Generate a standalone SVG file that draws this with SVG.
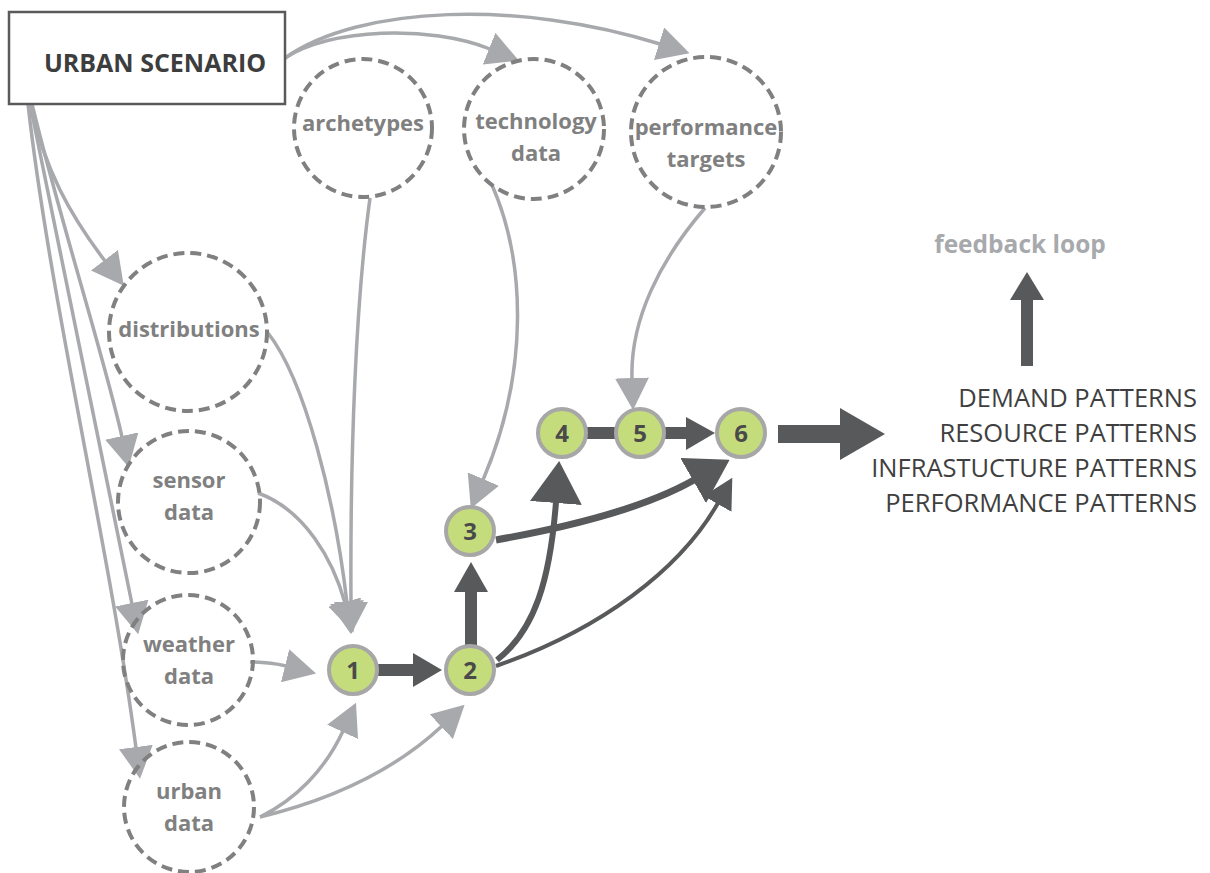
<svg xmlns="http://www.w3.org/2000/svg" width="1210" height="873" viewBox="0 0 1210 873">
  <style>
    .src { fill: #ffffff; stroke: #5a5a5a; stroke-width: 2.5; }
    .src-t { font-family: "Open Sans", "Liberation Sans", sans-serif; font-weight: 700; font-size: 25px; fill: #3d3d3d; text-anchor: middle; }
    .inp { fill: none; stroke: #808080; stroke-width: 4; stroke-dasharray: 11 6; }
    .inp-t { font-family: "Open Sans", "Liberation Sans", sans-serif; font-weight: 700; font-size: 22px; fill: #808080; text-anchor: middle; }
    .step { fill: #c5dc7d; stroke: #a7a7a7; stroke-width: 4; }
    .step-t { font-family: "Open Sans", "Liberation Sans", sans-serif; font-weight: 700; font-size: 24px; fill: #4a4a4a; text-anchor: middle; }
    .lt { fill: none; stroke: #a7a9ac; stroke-width: 3.5; marker-end: url(#hl); }
    .dk { fill: none; stroke: #58595b; }
    .dkf { fill: #58595b; }
    .out-t { font-family: "Open Sans", "Liberation Sans", sans-serif; font-weight: 400; font-size: 25.5px; fill: #3f3f3f; text-anchor: end; }
    .fb-t { font-family: "Open Sans", "Liberation Sans", sans-serif; font-weight: 700; font-size: 24.5px; fill: #a7a9ac; text-anchor: middle; }
  </style>
  <defs>
    <marker id="hl" viewBox="0 0 32 34" markerWidth="32" markerHeight="34" refX="1" refY="17" orient="auto" markerUnits="userSpaceOnUse">
      <path d="M0,0 L32,17 L0,34 z" fill="#a7a9ac"/>
    </marker>
    <marker id="hdL" viewBox="0 0 42 52" markerWidth="42" markerHeight="52" refX="1" refY="26" orient="auto" markerUnits="userSpaceOnUse">
      <path d="M0,0 L42,26 L0,52 z" fill="#58595b"/>
    </marker>
    <marker id="hdS" viewBox="0 0 30 32" markerWidth="30" markerHeight="32" refX="1" refY="16" orient="auto" markerUnits="userSpaceOnUse">
      <path d="M0,0 L30,16 L0,32 z" fill="#58595b"/>
    </marker>
  </defs>

  <g id="connectors">
    <!-- scenario fan-out -->
    <path class="lt" d="M 285 58 C 330 28, 430 25, 490 49"/>
    <path class="lt" d="M 285 58 C 360 5, 520 0, 660 44"/>
    <path class="lt" d="M 30 104 C 45 170, 70 215, 105 261"/>
    <path class="lt" d="M 32 104 C 60 220, 105 360, 122 437"/>
    <path class="lt" d="M 30 104 L 132 604"/>
    <path class="lt" d="M 28 104 C 50 300, 110 550, 136 748"/>
    <!-- inputs into step 1 -->
    <path class="lt" d="M 370 198 C 356 300, 350 450, 351 603"/>
    <path class="lt" d="M 268 333 C 305 380, 335 500, 347 603"/>
    <path class="lt" d="M 258 493 C 305 510, 333 560, 345 603"/>
    <path class="lt" d="M 250 662 C 262 662, 274 663, 286 666"/>
    <path class="lt" d="M 260 817 C 295 800, 325 770, 343 731"/>
    <!-- inputs into later steps -->
    <path class="lt" d="M 260 817 C 330 800, 395 770, 442 726"/>
    <path class="lt" d="M 492 185 C 525 260, 530 370, 483 480"/>
    <path class="lt" d="M 705 208 C 660 260, 630 320, 632 379"/>

    <!-- process chain -->
    <rect class="dkf" x="378" y="664" width="36" height="12"/>
    <polygon class="dkf" points="413,653 442,670 413,687"/>
    <rect class="dkf" x="465" y="590" width="12" height="56"/>
    <polygon class="dkf" points="454,592 471,562 488,592"/>
    <rect class="dkf" x="585" y="427" width="34" height="12"/>
    <rect class="dkf" x="664" y="427" width="24" height="12"/>
    <polygon class="dkf" points="686,417 715,433 686,450"/>
    <path class="dk" stroke-width="6" marker-end="url(#hdL)" d="M 497 660 C 535 630, 550 580, 556 502"/>
    <path class="dk" stroke-width="7" marker-end="url(#hdL)" d="M 496 540 C 580 525, 650 505, 694 480"/>
    <path class="dk" stroke-width="4" marker-end="url(#hdS)" d="M 496 666 C 600 630, 680 570, 718 503"/>
    <!-- outputs -->
    <rect class="dkf" x="778" y="425" width="64" height="18"/>
    <polygon class="dkf" points="840,408 885,434 840,460"/>
    <rect class="dkf" x="1021" y="298" width="12" height="68"/>
    <polygon class="dkf" points="1010,300 1027,272 1044,300"/>
  </g>

  <g id="urban-scenario">
    <rect class="src" x="9" y="12" width="276" height="92"/>
    <text class="src-t" x="155" y="72">URBAN SCENARIO</text>
  </g>

  <g id="archetypes">
    <circle class="inp" cx="363" cy="128" r="69"/>
    <text class="inp-t" x="363" y="131">archetypes</text>
  </g>
  <g id="technology-data">
    <circle class="inp" cx="534" cy="129" r="70"/>
    <text class="inp-t" x="536" y="129">technology</text>
    <text class="inp-t" x="536" y="161">data</text>
  </g>
  <g id="performance-targets">
    <circle class="inp" cx="706" cy="132" r="75"/>
    <text class="inp-t" x="706" y="135">performance</text>
    <text class="inp-t" x="706" y="167">targets</text>
  </g>
  <g id="distributions">
    <circle class="inp" cx="188" cy="332" r="79"/>
    <text class="inp-t" x="189" y="337">distributions</text>
  </g>
  <g id="sensor-data">
    <circle class="inp" cx="189" cy="502" r="71"/>
    <text class="inp-t" x="189" y="488">sensor</text>
    <text class="inp-t" x="189" y="520">data</text>
  </g>
  <g id="weather-data">
    <circle class="inp" cx="188" cy="660" r="65"/>
    <text class="inp-t" x="189" y="652">weather</text>
    <text class="inp-t" x="189" y="684">data</text>
  </g>
  <g id="urban-data">
    <circle class="inp" cx="189" cy="807" r="65"/>
    <text class="inp-t" x="189" y="799">urban</text>
    <text class="inp-t" x="189" y="831">data</text>
  </g>

  <g id="step-1">
    <circle class="step" cx="353" cy="670" r="24"/>
    <text class="step-t" x="353" y="679">1</text>
  </g>
  <g id="step-2">
    <circle class="step" cx="470" cy="670" r="24"/>
    <text class="step-t" x="470" y="679">2</text>
  </g>
  <g id="step-3">
    <circle class="step" cx="470" cy="531" r="24"/>
    <text class="step-t" x="470" y="540">3</text>
  </g>
  <g id="step-4">
    <circle class="step" cx="562" cy="433" r="24"/>
    <text class="step-t" x="562" y="442">4</text>
  </g>
  <g id="step-5">
    <circle class="step" cx="640" cy="433" r="24"/>
    <text class="step-t" x="640" y="442">5</text>
  </g>
  <g id="step-6">
    <circle class="step" cx="741" cy="433" r="24"/>
    <text class="step-t" x="741" y="442">6</text>
  </g>

  <g id="patterns">
    <text class="out-t" x="1197" y="407">DEMAND PATTERNS</text>
    <text class="out-t" x="1197" y="442">RESOURCE PATTERNS</text>
    <text class="out-t" x="1197" y="477">INFRASTUCTURE PATTERNS</text>
    <text class="out-t" x="1197" y="512">PERFORMANCE PATTERNS</text>
  </g>

  <g id="feedback-loop">
    <text class="fb-t" x="1020" y="253">feedback loop</text>
  </g>
</svg>
